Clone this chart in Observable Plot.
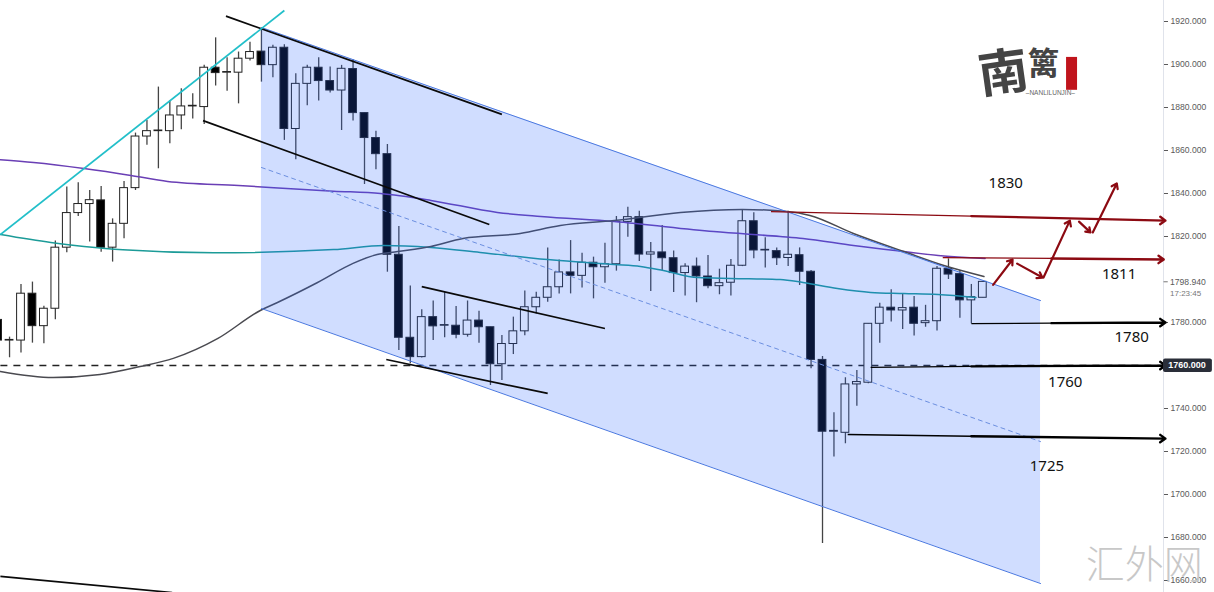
<!DOCTYPE html>
<html><head><meta charset="utf-8">
<script src="https://cdn.jsdelivr.net/npm/d3@7"></script>
<script src="https://cdn.jsdelivr.net/npm/@observablehq/plot@0.6"></script>
<style>html,body{margin:0;padding:0;background:#fff;overflow:hidden}svg{display:block;background:#fff}</style>
</head><body><div id="chart"></div>
<script>
const opens=[1781.2,1771.6,1771.6,1793.4,1778.3,1786.4,1814.8,1830.9,1835.1,1836.8,1814.8,1825.9,1842.5,1866.5,1869,1869,1876.3,1880.5,1880.2,1898.5,1896.2,1896.2,1902.7,1906,1899.7,1907.8,1870,1891,1898.5,1892.3,1887.9,1897.9,1877.4,1865.8,1858.3,1811.5,1772.9,1763.9,1782.5,1778.5,1778.5,1774.3,1780.9,1777.8,1760.6,1770,1775.9,1787.1,1791.5,1796.4,1803.3,1801.7,1807.8,1805.7,1807.1,1826.8,1829,1811.6,1812.6,1809.9,1803,1806,1801.4,1796.9,1798.5,1806.4,1827.1,1813.5,1813.2,1810,1811.3,1803.6,1762.6,1729.2,1728.7,1751.2,1752,1779.4,1786.9,1785.6,1786.9,1779.7,1780.6,1805,1802.5,1790.3,1791.5];
const closes=[1771.6,1771.9,1793.4,1778.3,1786.4,1814.8,1830.9,1835.1,1836.9,1814.8,1825.9,1842.5,1866.5,1869,1869.3,1876.3,1880.5,1880.8,1898.5,1896,1896.5,1902.7,1905.8,1899.7,1907.8,1870,1891,1898.5,1892.3,1887.9,1898,1877.4,1865.8,1858.3,1811.5,1772.9,1763.9,1782.5,1778.2,1778.8,1774.3,1780.9,1777.8,1760.6,1770,1775.9,1787.1,1791.5,1796.4,1803.3,1801.7,1807.8,1805.7,1807.1,1826.8,1829,1811.6,1812.6,1809.9,1803,1806,1801.4,1796.9,1798.3,1806.4,1827.1,1813.5,1813.8,1809.9,1811.5,1803.6,1762.6,1729.2,1729.6,1751.2,1752.3,1779.4,1786.9,1785.6,1786.7,1779.4,1780.6,1805,1802.3,1790.3,1791.8,1798.9];
const highs=[1782,1773.2,1797.7,1798.8,1787.6,1817.9,1843,1845,1841.4,1843.3,1828.2,1845.6,1868.1,1874,1889.5,1883,1888.7,1886.4,1899.6,1912.4,1903.1,1905.8,1910.4,1916.6,1908.9,1909.2,1895.7,1899.6,1903.1,1898.8,1899.6,1902.2,1877.4,1869,1862.8,1824.7,1797,1785.9,1790,1794,1787.4,1790,1785.2,1777.8,1774,1782.5,1794.6,1794.1,1814.6,1809.1,1818.1,1812.2,1810.4,1816.9,1829.3,1833.6,1831.8,1817.2,1825.1,1813.2,1807.3,1810,1811.2,1804.8,1809.3,1832.4,1831,1819.4,1814.6,1831.8,1814.7,1804.2,1764.2,1738,1754.3,1757.7,1779.4,1789,1795.2,1793.4,1792.1,1788,1806,1809.6,1804.2,1797.7,1799];
const lows=[1769.3,1763.6,1765.8,1770.4,1770.1,1781.3,1812.4,1829.3,1817.4,1812.7,1808.1,1818.9,1841.4,1862.4,1851.5,1863.1,1869.6,1874.6,1872.1,1890,1887.6,1881.7,1901.6,1891.8,1893.8,1864.7,1855.7,1880.8,1883,1886.7,1869.3,1873.7,1844.2,1851,1803.4,1767,1760.8,1763.5,1771.6,1772.9,1772.4,1773.2,1770.4,1750.7,1753,1765.1,1773.8,1784,1789.4,1793.3,1793.3,1796,1791,1798.3,1803.9,1819.7,1808.4,1794.4,1804.2,1794,1792.3,1789.2,1795.7,1792.9,1792.3,1806,1809.6,1805.3,1806.5,1806,1797.2,1758.5,1677.2,1717.4,1723.6,1741,1751.5,1770.4,1780.2,1776.8,1773.7,1777.8,1776,1800,1782,1779.4,1791.5];

const tealBars=[0.2,4.6,7.5,10.9,18.8,29.3,33.7,37.8,42.1,48,53.8,56.1,58.1,61.1,64,68.3,70.3,73.3,76.2,79.1,82.1,85.4];
const tealVals=[1820.9,1817.2,1815.4,1813.8,1812.4,1813.9,1815.8,1814.9,1812.6,1809.3,1807,1806.1,1804.2,1800.9,1800.5,1800,1798.6,1795.8,1794,1793.5,1793,1791.6];
const purpleBars=[0.2,3.1,7.5,11.6,14.8,21,29.3,33.4,37.8,43.6,47.4,53.8,62.5,68.3,70.3,74.7,79.1,82.1,86.2];
const purpleVals=[1855.7,1854.4,1851.6,1848.4,1845.6,1843.7,1841.1,1840,1836.8,1831.2,1829.3,1827,1822.3,1820,1819.1,1815.8,1813,1811.2,1809.8];
const grayBars=[0.2,4.8,8.9,12.4,15.3,19.2,22.9,24.4,27.9,31,33.1,34.9,37.8,40.6,45.6,49.1,53.8,59.6,65,68.9,70.9,74.7,79.1,82.6,86.1];
const grayVals=[1757.2,1754.4,1755.8,1759.5,1763.3,1772.6,1785.6,1789.3,1798.6,1807.5,1811.6,1813,1815.4,1819.1,1821.4,1825.1,1827.4,1831.2,1832.6,1831.6,1829.8,1821.4,1813,1806.5,1801.4];

const channel=[{b:23,top:1917.2,mid:1852.1,low:1786.5},{b:91.04,top:1790.2,mid:1724.6,low:1658.6}];
// segments: [bar1, price1, bar2, price2]
const blackLines=[[19.9,1922.5,44,1876.8],[17.9,1873.9,42.9,1825.6],[37,1796.7,53,1777.2],[33.9,1762.8,48,1747],[0.2,1661.9,15.2,1654.4]];
const cyanLine=[[0.2,1820.9,25,1925.1]];
const dashedLevel=[[0.2,1760,101.78,1760]];
const redThin=[[67.5,1831.6,85,1829.5],[82.5,1810.2,92,1809.8]];
const redLevels=[[85,1829.5,101.95,1827.4],[92,1809.8,101.8,1809.3]];
const redPath=[[86.9,1797.5,88.6,1809.3],[89,1807.4,91.2,1800.9],[91.3,1800.9,93.6,1827.4],[94.4,1826.9,95.4,1821.9],[95.6,1821.9,97.7,1844.7]];
const blackThin=[[85,1779.5,92,1779.7],[76.2,1759.1,85,1759.6],[74.2,1727.9,85,1727.1]];
const blackArrows=[[92,1779.7,101.95,1780],[85,1759.6,101.95,1760],[85,1727.1,101.95,1726]];
const levelLabels=[["1830",88,1844.7],["1811",97.9,1802.3],["1780",99,1773],["1760",93.2,1752.1],["1725",91.6,1713]];
const axisTicks=[1920,1900,1880,1860,1840,1820,1780,1740,1720,1700,1680,1660];

const bars=opens.map((o,i)=>({i,o,c:closes[i],h:highs[i],l:lows[i]}));
const seg=(bs,vs)=>bs.map((b,k)=>({b,v:vs[k]}));
const segOpts=(extra)=>({x1:d=>d[0],y1:d=>d[1],x2:d=>d[2],y2:d=>d[3],...extra});
const W=0.34;

const chart=Plot.plot({
  width:1214,height:592,marginTop:0,marginBottom:0,marginLeft:0,marginRight:51,
  x:{domain:[0.21,101.78],axis:null},
  y:{domain:[1654.42,1929.77],axis:null},
  style:{background:"#fff",fontFamily:"'Liberation Sans',sans-serif"},
  marks:[
    Plot.ruleX([101.78],{stroke:"#e0e3eb",strokeWidth:1}),
    Plot.axisY(axisTicks,{anchor:"right",label:null,tickFormat:d=>d.toFixed(3),tickSize:4,tickPadding:3,fontSize:8.6,color:"#5a5a5a"}),
    Plot.link(dashedLevel,segOpts({stroke:"#222",strokeWidth:1.4,strokeDasharray:"7,6"})),
    Plot.ruleX(bars,{x:"i",y1:"l",y2:"h",stroke:"#444",strokeWidth:1.3}),
    Plot.rect(bars,{x1:d=>d.i-W,x2:d=>d.i+W,y1:d=>Math.min(d.o,d.c),y2:d=>Math.max(d.o,d.c),fill:d=>d.c>=d.o?"#fff":"#000",stroke:"#222",strokeWidth:1}),
    Plot.line(seg(tealBars,tealVals),{x:"b",y:"v",stroke:"#1c9b98",strokeWidth:1.5,curve:"monotone-x"}),
    Plot.line(seg(purpleBars,purpleVals),{x:"b",y:"v",stroke:"#6a3fb5",strokeWidth:1.5,curve:"monotone-x"}),
    Plot.line(seg(grayBars,grayVals),{x:"b",y:"v",stroke:"#4a4a50",strokeWidth:1.5,curve:"monotone-x"}),
    Plot.areaY(channel,{x:"b",y1:"low",y2:"top",fill:"#2962ff",fillOpacity:0.22}),
    Plot.line(channel,{x:"b",y:"top",stroke:"#4a78e0",strokeWidth:1}),
    Plot.line(channel,{x:"b",y:"low",stroke:"#4a78e0",strokeWidth:1}),
    Plot.line(channel,{x:"b",y:"mid",stroke:"#6c8fe0",strokeWidth:1,strokeDasharray:"4,4"}),
    Plot.link(blackLines,segOpts({stroke:"#0a0a0a",strokeWidth:1.7})),
    Plot.link(cyanLine,segOpts({stroke:"#22bfc9",strokeWidth:1.7})),
    Plot.link(redThin,segOpts({stroke:"#8c0a12",strokeWidth:1.3})),
    Plot.arrow(redLevels,segOpts({stroke:"#8c0a12",strokeWidth:2.4,headLength:4,headAngle:70,bend:0})),
    Plot.arrow(redPath,segOpts({stroke:"#8c0a12",strokeWidth:2.2,headLength:4,headAngle:70,bend:0})),
    Plot.link(blackThin,segOpts({stroke:"#000",strokeWidth:1.3})),
    Plot.arrow(blackArrows,segOpts({stroke:"#000",strokeWidth:2.4,headLength:4,headAngle:70,bend:0})),
    Plot.text(levelLabels,{x:d=>d[1],y:d=>d[2],text:d=>d[0],fontSize:15,fill:"#111",fontFamily:"'Noto Sans',sans-serif"}),
    // current price
    Plot.link([[101.78,1798.94,102.15,1798.94]],segOpts({stroke:"#777"})),
    Plot.text(["1798.940"],{x:102.35,y:1798.94,text:d=>d,textAnchor:"start",fontSize:8.6,fill:"#5a5a5a"}),
    Plot.text(["17:23:45"],{x:102.35,y:1793.4,text:d=>d,textAnchor:"start",fontSize:8,fill:"#777"}),
    // level tag
    Plot.rect([{a:101.78,b:106.05,lo:1756.8,hi:1763}],{x1:"a",x2:"b",y1:"lo",y2:"hi",fill:"#2a2e39",rx:2}),
    Plot.text(["1760.000"],{x:102.2,y:1760,text:d=>d,textAnchor:"start",fontSize:9,fontWeight:"bold",fill:"#fff"}),
    // logo
    Plot.text(["南"],{x:87.8,y:1895.5,text:d=>d,fontSize:50,fontWeight:"bold",rotate:-8,fill:"#444",fontFamily:"'Noto Sans CJK SC',sans-serif"}),
    Plot.text(["篱"],{x:91.3,y:1900,text:d=>d,fontSize:32,fontWeight:"bold",fill:"#444",fontFamily:"'Noto Sans CJK SC',sans-serif"}),
    Plot.ruleX([93.75],{y1:1888,y2:1903.3,stroke:"#c0141c",strokeWidth:11}),
    Plot.text(["–NANLILUNJIN–"],{x:91.9,y:1887,text:d=>d,fontSize:6.5,fill:"#666"}),
    // watermark
    Plot.text(["汇外网"],{x:100.1,y:1667,text:d=>d,fontSize:39,fill:"#c8c8c8",fontFamily:"'Noto Sans CJK SC',sans-serif",fontWeight:300})
  ]
});
document.getElementById("chart").appendChild(chart);
</script>
</body></html>
